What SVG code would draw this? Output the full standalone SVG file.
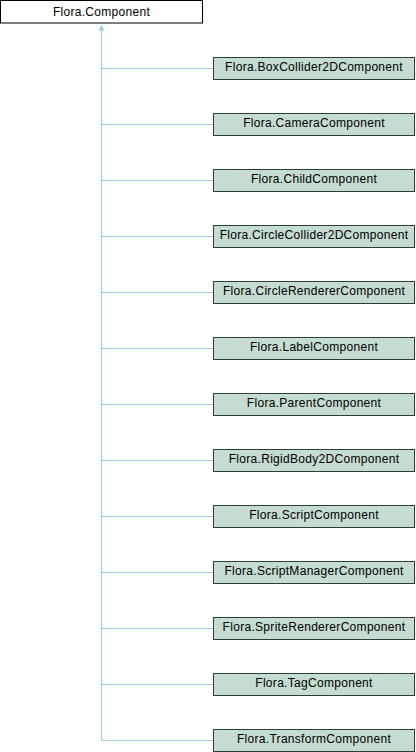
<svg xmlns="http://www.w3.org/2000/svg" width="416" height="752" viewBox="0 0 416 752">
<style>
.bg{fill:#ffffff}
.node rect{fill:#c5dcd0;stroke:#2e3f36;stroke-width:1}
.root rect{fill:#ffffff;stroke:#000000;stroke-width:1}
text{font-family:"Liberation Sans",Arial,sans-serif;font-size:12px;letter-spacing:0.3px;fill:#000000;text-anchor:middle}
.edge{stroke:#9fcde6;stroke-width:1;fill:none}
</style>
<rect class="bg" x="0" y="0" width="416" height="752"/>
<g id="connectors">
<path class="edge" d="M101.5,27 L101.5,740.5"/>
<path d="M98.5,30.5 L101.5,25 L104.5,30.5 Z" fill="#9fcde6"/>
<path class="edge" d="M101.5,68.5 H213"/>
<path class="edge" d="M101.5,124.5 H213"/>
<path class="edge" d="M101.5,180.5 H213"/>
<path class="edge" d="M101.5,236.5 H213"/>
<path class="edge" d="M101.5,292.5 H213"/>
<path class="edge" d="M101.5,348.5 H213"/>
<path class="edge" d="M101.5,404.5 H213"/>
<path class="edge" d="M101.5,460.5 H213"/>
<path class="edge" d="M101.5,516.5 H213"/>
<path class="edge" d="M101.5,572.5 H213"/>
<path class="edge" d="M101.5,628.5 H213"/>
<path class="edge" d="M101.5,684.5 H213"/>
<path class="edge" d="M101.5,740.5 H213"/>
</g>
<g id="Component" class="root"><rect x="0.5" y="0.5" width="202" height="22.5"/><text x="101.5" y="16">Flora.Component</text></g>
<g id="BoxCollider2DComponent" class="node"><rect x="213.5" y="57.5" width="201" height="22"/><text x="314" y="71">Flora.BoxCollider2DComponent</text></g>
<g id="CameraComponent" class="node"><rect x="213.5" y="113.5" width="201" height="22"/><text x="314" y="127">Flora.CameraComponent</text></g>
<g id="ChildComponent" class="node"><rect x="213.5" y="169.5" width="201" height="22"/><text x="314" y="183">Flora.ChildComponent</text></g>
<g id="CircleCollider2DComponent" class="node"><rect x="213.5" y="225.5" width="201" height="22"/><text x="314" y="239">Flora.CircleCollider2DComponent</text></g>
<g id="CircleRendererComponent" class="node"><rect x="213.5" y="281.5" width="201" height="22"/><text x="314" y="295">Flora.CircleRendererComponent</text></g>
<g id="LabelComponent" class="node"><rect x="213.5" y="337.5" width="201" height="22"/><text x="314" y="351">Flora.LabelComponent</text></g>
<g id="ParentComponent" class="node"><rect x="213.5" y="393.5" width="201" height="22"/><text x="314" y="407">Flora.ParentComponent</text></g>
<g id="RigidBody2DComponent" class="node"><rect x="213.5" y="449.5" width="201" height="22"/><text x="314" y="463">Flora.RigidBody2DComponent</text></g>
<g id="ScriptComponent" class="node"><rect x="213.5" y="505.5" width="201" height="22"/><text x="314" y="519">Flora.ScriptComponent</text></g>
<g id="ScriptManagerComponent" class="node"><rect x="213.5" y="561.5" width="201" height="22"/><text x="314" y="575">Flora.ScriptManagerComponent</text></g>
<g id="SpriteRendererComponent" class="node"><rect x="213.5" y="617.5" width="201" height="22"/><text x="314" y="631">Flora.SpriteRendererComponent</text></g>
<g id="TagComponent" class="node"><rect x="213.5" y="673.5" width="201" height="22"/><text x="314" y="687">Flora.TagComponent</text></g>
<g id="TransformComponent" class="node"><rect x="213.5" y="729.5" width="201" height="22"/><text x="314" y="743">Flora.TransformComponent</text></g>
</svg>
